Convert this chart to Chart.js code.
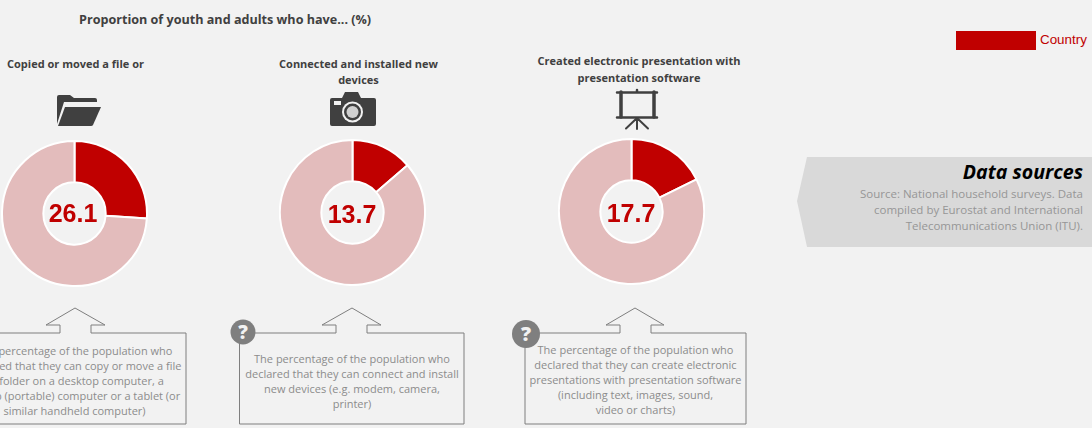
<!DOCTYPE html>
<html><head><meta charset="utf-8">
<script src="https://cdn.jsdelivr.net/npm/chart.js@4"></script>
<style>
html,body{margin:0;padding:0;background:#f2f2f2;width:1092px;height:428px;overflow:hidden}
body{position:relative;font-family:"Open Sans",sans-serif}
.t{position:absolute;white-space:nowrap}
.c{text-align:center}
.head{font-weight:700;color:#404040;font-size:11px;line-height:16.500px;transform:translateX(-50%)}
.desc{color:#8c8c8c;font-size:11px;line-height:15px;transform:translateX(-50%)}
.val{font-family:"Liberation Sans",Arial,sans-serif;font-weight:700;color:#c00000;font-size:25px;transform:translate(-50%,-50%)}
canvas{position:absolute}
svg{position:absolute;left:0;top:0}
</style></head><body>
<svg width="1092" height="428" id="s" xmlns="http://www.w3.org/2000/svg">
<polygon points="807,157 1092,157 1092,247 807,247 797,201" fill="#d9d9d9"/>
<rect x="956" y="31" width="80" height="19" fill="#c00000"/>
<!-- callouts -->
<path d="M-39 333H60V325H46L75 308L105 325H91V333H186V424H-39Z" fill="none" stroke="#7f7f7f" stroke-width="1"/>
<path d="M239.500 333H336V325H322L352 308L381 325H367V333H464V424H239.500Z" fill="none" stroke="#7f7f7f" stroke-width="1"/>
<path d="M525 333H620V325H606L635 308L664 325H651V333H746V424H525Z" fill="none" stroke="#7f7f7f" stroke-width="1"/>
<circle cx="243" cy="332" r="12.500" fill="#7f7f7f"/>
<circle cx="526" cy="334" r="14" fill="#7f7f7f"/>
<!-- folder -->
<path d="M57 124V97Q57 95 59 95H70L74 98H95Q97 98 97 100V102H64L57 124Z" fill="#404040"/>
<path d="M58 126L65 107H101L93 125Q92.500 126 91 126Z" fill="#404040"/>
<!-- camera -->
<path d="M332 98H342L345 92H358L361 98H374Q376 98 376 100V124Q376 126 374 126H332Q330 126 330 124V100Q330 98 332 98Z" fill="#404040"/>
<rect x="334" y="101" width="7" height="4" fill="#f2f2f2"/>
<circle cx="352.500" cy="112" r="10.500" fill="#f2f2f2"/>
<circle cx="352.500" cy="112" r="8.500" fill="#404040"/>
<circle cx="352.500" cy="112" r="6" fill="#d0d0d0"/>
<!-- presentation -->
<g stroke="#404040" fill="none" stroke-linecap="round">
<path d="M617 92.500H657M617 117.500H657M637 90V92" stroke-width="2.500"/>
<path d="M621 92V117M654 92V117" stroke-width="3.500"/>
<path d="M637 118V129M637 118L626 128.500M637 118L648 128.500" stroke-width="2"/>
</g>
</svg>
<div id="root"></div>
<script>
const categories = ["Copied or moved a file or", "Connected and installed new\ndevices", "Created electronic presentation with\npresentation software"];
const values = [26.1, 13.7, 17.7];
const remainders = [73.9, 86.3, 82.3];
const descriptions = [
 "The percentage of the population who\ndeclared that they can copy or move a file\nor folder on a desktop computer, a\nlaptop (portable) computer or a tablet (or\nsimilar handheld computer)",
 "The percentage of the population who\ndeclared that they can connect and install\nnew devices (e.g. modem, camera,\nprinter)",
 "The percentage of the population who\ndeclared that they can create electronic\npresentations with presentation software\n(including text, images, sound,\nvideo or charts)"];
const legendLabel = "Country";
const chartTitle = "Proportion of youth and adults who have... (%)";
const sourceTitle = "Data sources";
const sourceLines = ["Source: National household surveys. Data", "compiled by Eurostat and International", "Telecommunications Union (ITU)."];

const centers = [[74.5,213.5],[352,212.5],[631,211.5]];
const valPos = [[73,213],[352,214],[631,213]];
const headTops = [55.5,55.5,53];
const descTops = [343,351,341.5];
const descX = [74.5,352,635.5];
const headX = [75.5,358.5,639];
const root = document.getElementById('root');
function txt(cls, s, css){const d=document.createElement('div');d.className='t '+cls;d.style.cssText=css;d.innerHTML=s.split('\n').join('<br>');root.appendChild(d);return d;}

txt('', chartTitle, 'left:79px;top:11px;font-weight:700;color:#404040;font-size:12.6px;line-height:17px');
txt('', legendLabel, 'left:1040px;top:33px;font-family:"Liberation Sans",Arial,sans-serif;color:#c00000;font-size:13.4px;line-height:14px');
txt('', sourceTitle, 'right:9px;top:160px;font-weight:700;font-style:italic;color:#000;font-size:19.6px;line-height:24px');
sourceLines.forEach((l,i)=>txt('', l, `right:9px;top:${186+i*16}px;color:#969696;font-size:11.5px;line-height:16px;text-align:right`));

categories.forEach((cat,i)=>{
  const [cx,cy]=centers[i];
  const cv=document.createElement('canvas');
  const size=147;
  cv.width=size;cv.height=size;
  cv.style.cssText=`left:${cx-size/2}px;top:${cy-size/2}px;width:${size}px;height:${size}px`;
  root.appendChild(cv);
  new Chart(cv,{type:'doughnut',
    data:{labels:[legendLabel,'Other'],datasets:[{data:[values[i],remainders[i]],backgroundColor:['#c00000','#e3bcbc'],borderColor:'#ffffff',borderWidth:2}]},
    options:{responsive:false,animation:false,cutout:'43%',layout:{padding:0},plugins:{legend:{display:false},tooltip:{enabled:false}}}
  });
  txt('c head', cat, `left:${headX[i]}px;top:${headTops[i]}px`);
  txt('c val', values[i].toFixed(1), `left:${valPos[i][0]}px;top:${valPos[i][1]}px`);
  txt('c desc', descriptions[i], `left:${descX[i]}px;top:${descTops[i]}px`);
});
txt('c','?','left:236px;top:319px;width:14px;font-weight:800;color:#f2f2f2;font-size:19px;line-height:26px');
txt('c','?','left:519px;top:321px;width:14px;font-weight:800;color:#f2f2f2;font-size:20px;line-height:26px');
</script>
</body></html>
